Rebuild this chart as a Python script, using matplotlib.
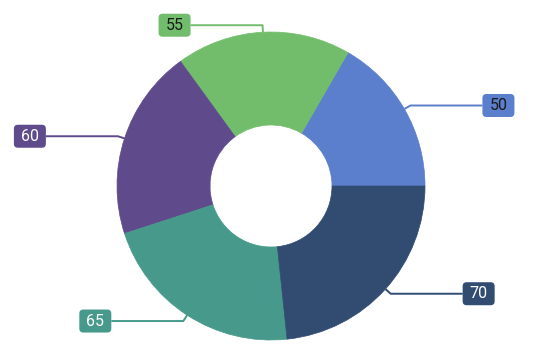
import matplotlib.pyplot as plt
import numpy as np
from matplotlib.patches import FancyBboxPatch

valeurs = [50, 55, 60, 65, 70]
couleurs = ['#5b7fcc', '#72bd6c', '#5f4a8c', '#479a8b', '#314b71']
couleurs_texte = ['#1a1a1a', '#1a1a1a', 'white', 'white', 'white']

plt.rcParams['font.family'] = ['Roboto', 'DejaVu Sans']

fig = plt.figure(figsize=(5.41, 3.58), dpi=100)
ax = fig.add_axes([0, 0, 1, 1])

R = 154
wedges, _ = ax.pie(valeurs, colors=couleurs, radius=R, startangle=0, counterclock=True,
                   wedgeprops=dict(width=R - 61, edgecolor='none', linewidth=0))
for w, c in zip(wedges, couleurs):
    w.set_edgecolor(c)
    w.set_linewidth(0.5)

# etiquettes avec lignes de rappel
for w, v, c, tc in zip(wedges, valeurs, couleurs, couleurs_texte):
    ang = np.deg2rad((w.theta1 + w.theta2) / 2)
    x0, y0 = R * np.cos(ang), R * np.sin(ang)
    x1, y1 = 161 * np.cos(ang), 161 * np.sin(ang)
    sens = 1 if np.cos(ang) >= 0 else -1
    x2 = x1 + sens * 72
    ax.plot([x0, x1, x2], [y0, y1, y1], color=c, lw=1.4, solid_capstyle='butt', zorder=3)
    bw, bh = 32, 23
    bx = x2 if sens > 0 else x2 - bw
    box = FancyBboxPatch((bx, y1 - bh / 2), bw, bh, boxstyle='round,pad=0,rounding_size=4',
                         fc=c, ec='none', zorder=4)
    ax.add_patch(box)
    ax.text(bx + bw / 2, y1, str(v), color=tc, ha='center', va='center',
            fontsize=11.5, zorder=5)

ax.set_xlim(-271, 270)
ax.set_ylim(-172, 186)
ax.set_aspect('equal')
ax.axis('off')

plt.savefig('out.png', dpi=100)
